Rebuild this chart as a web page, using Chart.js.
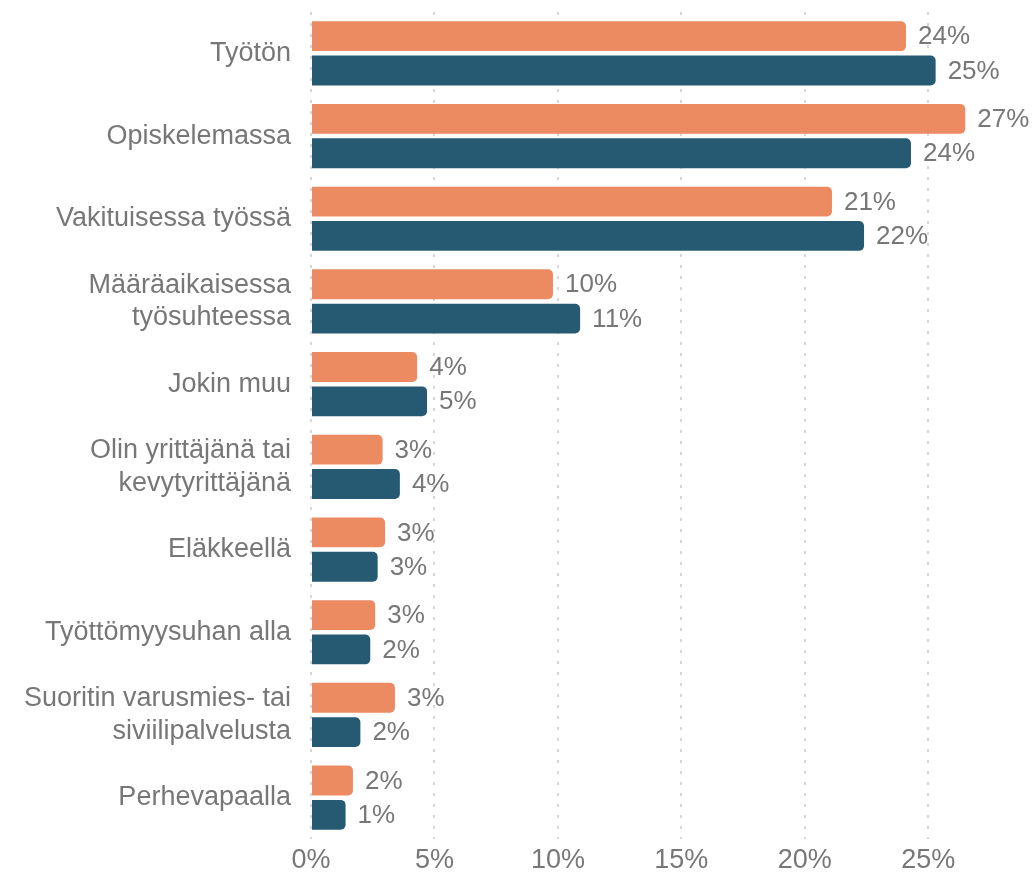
<!DOCTYPE html>
<html>
<head>
<meta charset="utf-8">
<script src="https://cdn.jsdelivr.net/npm/chart.js@4/dist/chart.umd.min.js"></script>
<style>
  html, body { margin: 0; padding: 0; background: #fff; }
  #wrap { width: 1035px; height: 875px; }
</style>
</head>
<body>
<div id="wrap"><canvas id="myChart"></canvas></div>
<script>
const categories = [
  'Työtön',
  'Opiskelemassa',
  'Vakituisessa työssä',
  ['Määräaikaisessa', 'työsuhteessa'],
  'Jokin muu',
  ['Olin yrittäjänä tai', 'kevytyrittäjänä'],
  'Eläkkeellä',
  'Työttömyysuhan alla',
  ['Suoritin varusmies- tai', 'siviilipalvelusta'],
  'Perhevapaalla'
];
const seriesOrange = [24.1, 26.5, 21.1, 9.8, 4.3, 2.9, 3.0, 2.6, 3.4, 1.7];
const seriesBlue = [25.3, 24.3, 22.4, 10.9, 4.7, 3.6, 2.7, 2.4, 2.0, 1.4];
const xTicks = [0, 5, 10, 15, 20, 25];

const textGray = '#777777';

// draw the "24%" style labels at the end of each bar
const valueLabels = {
  id: 'valueLabels',
  afterDatasetsDraw(chart) {
    const ctx = chart.ctx;
    ctx.save();
    ctx.font = '26px "Liberation Sans", Arial, sans-serif';
    ctx.fillStyle = textGray;
    ctx.textAlign = 'left';
    ctx.textBaseline = 'middle';
    chart.data.datasets.forEach((ds, i) => {
      const meta = chart.getDatasetMeta(i);
      meta.data.forEach((bar, j) => {
        ctx.fillText(Math.round(ds.data[j]) + '%', bar.x + 12, bar.y + 1);
      });
    });
    ctx.restore();
  }
};

const ctx = document.getElementById('myChart');

new Chart(ctx, {
  type: 'bar',
  data: {
    labels: categories,
    datasets: [
      {
        label: 'A',
        data: seriesOrange,
        backgroundColor: '#EC8B62',
        borderRadius: 5,
        categoryPercentage: 0.83,
        barPercentage: 0.87
      },
      {
        label: 'B',
        data: seriesBlue,
        backgroundColor: '#265A73',
        borderRadius: 5,
        categoryPercentage: 0.83,
        barPercentage: 0.87
      }
    ]
  },
  options: {
    indexAxis: 'y',
    responsive: true,
    maintainAspectRatio: false,
    animation: false,
    layout: {
      padding: { top: 12, right: 8, bottom: -7, left: 0 }
    },
    plugins: {
      legend: { display: false },
      tooltip: { enabled: false }
    },
    scales: {
      x: {
        min: 0,
        max: 29,
        afterBuildTicks: (scale) => {
          scale.ticks = xTicks.map(v => ({ value: v }));
        },
        grid: {
          color: '#d6d6d6',
          lineWidth: 2,
          drawTicks: false
        },
        border: { display: false, dash: [3, 8] },
        ticks: {
          padding: 8,
          color: textGray,
          font: { family: '"Liberation Sans", Arial, sans-serif', size: 27, lineHeight: 1 },
          callback: (v) => v + '%'
        }
      },
      y: {
        afterFit: (scale) => {
          scale.width = 311;
          scale.paddingTop = 0;
          scale.paddingBottom = 0;
        },
        grid: { display: false, drawTicks: false },
        border: { display: false },
        ticks: {
          padding: 20,
          color: textGray,
          font: { family: '"Liberation Sans", Arial, sans-serif', size: 27, lineHeight: 1.2 }
        }
      }
    }
  },
  plugins: [valueLabels]
});
</script>
</body>
</html>
